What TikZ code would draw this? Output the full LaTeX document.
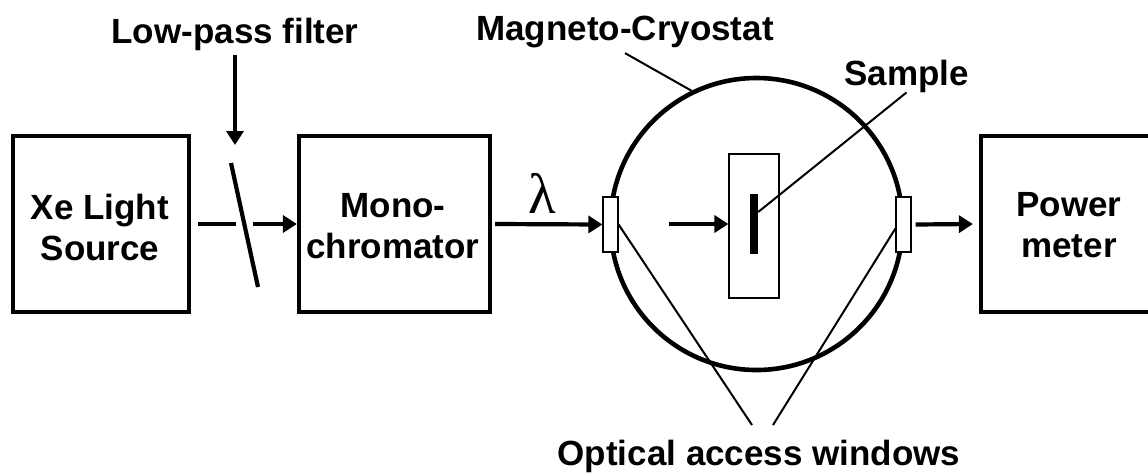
\documentclass[tikz,border=0pt]{standalone}
\usepackage{fontspec}
\setmainfont{Liberation Sans}
\newfontfamily\lamfont{Liberation Serif}
\usetikzlibrary{arrows.meta}
\begin{document}
\begin{tikzpicture}[x=1pt,y=-1pt,
  lbl/.style={font=\bfseries\fontsize{35pt}{41pt}\selectfont, inner sep=0pt, align=center},
  box/.style={draw, line width=4.2pt, minimum width=176pt, minimum height=176pt, inner sep=0pt},
  beam/.style={line width=4.2pt},
  arr/.style={beam, -{Triangle[length=14pt,width=17pt]}},
  thinline/.style={line width=2pt},
  win/.style={draw, fill=white, line width=1.2pt, minimum width=15pt, minimum height=55pt, inner sep=0pt}]
\useasboundingbox (0,0) rectangle (1148,475);
\clip (0,0) rectangle (1148,475);

% boxes
\node[box] (src) at (101,224) {};
\node[box, minimum width=191pt] (mono) at (394.5,224) {};
\node[box] (pm) at (1069,224) {};
\node[lbl] (srct) at (100,227.4) {Xe Light\\Source};
\node[lbl] (monot) at (393,226.4) {Mono-\\chromator};
\node[lbl] (pmt) at (1069,225.4) {Power\\meter};

% cryostat
\node[draw, circle, line width=4.6pt, minimum size=292pt, inner sep=0pt] (cryo) at (756.5,224) {};
\node[draw, line width=1.2pt, minimum width=50pt, minimum height=144pt, inner sep=0pt] (holder) at (754,226) {};
\node[fill=black, minimum width=8pt, minimum height=60pt, inner sep=0pt] (bar) at (754,224) {};
\node[win] (winL) at (610.5,224.5) {};
\node[win] (winR) at (903.5,224.5) {};

% labels
\node[lbl, anchor=base] (lpf) at (235,43) {Low-pass filter};
\node[lbl, anchor=base] (mag) at (625,40) {Magneto-Cryostat};
\node[lbl, anchor=base] (sample) at (906.5,85) {Sample};
\node[lbl, anchor=base] (oaw) at (759,465.5) {Optical access windows};
\node[font=\lamfont\fontsize{57pt}{57pt}\selectfont, inner sep=0pt] (lam) at (542,193) {λ};

% coordinates
\coordinate (f1) at (231,163);
\coordinate (f2) at (258,287);
\coordinate (fc) at (244.5,224);
\coordinate (lpfa) at (235,145);
\coordinate (inarrow) at (669,224);
\coordinate (oa1) at (752,425);
\coordinate (oa2) at (773,425);

% filter
\draw[beam] (f1) -- (f2);
\draw[arr] ([yshift=-4.5pt]lpf.south) -- (lpfa);

% beam path
\draw[beam] ([xshift=7pt]src.east) -- ([xshift=-8.5pt]fc);
\draw[arr] ([xshift=8.5pt]fc) -- (mono.west);
\draw[arr] ([xshift=3pt]mono.east) -- (winL.west);
\draw[arr] (inarrow) -- (inarrow -| holder.west);
\draw[arr] ([xshift=4pt]winR.east) -- ([xshift=-6pt]pm.west);

% pointers
\draw[thinline] ([yshift=-5.5pt]mag.south) -- (cryo.116);
\draw[thinline] ([yshift=12pt]bar.east) -- (sample.south);
\draw[thinline] (winL.east) -- (oa1);
\draw[thinline] ([yshift=-4pt]winR.west) -- (oa2);
\end{tikzpicture}
\end{document}
